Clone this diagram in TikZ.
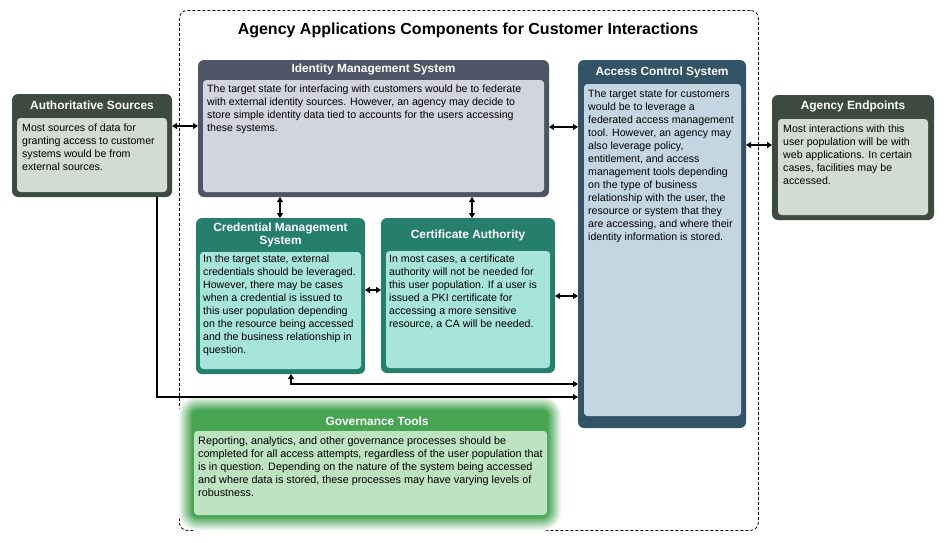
\documentclass[tikz,border=0pt]{standalone}
\usepackage{fontspec}
\setmainfont{Liberation Sans}
\usetikzlibrary{arrows.meta,calc}
\definecolor{authO}{HTML}{3D4A40}
\definecolor{authI}{HTML}{D2DCD3}
\definecolor{imsO}{HTML}{4E5567}
\definecolor{imsI}{HTML}{D2D5DE}
\definecolor{tealO}{HTML}{257F6C}
\definecolor{tealI}{HTML}{A7E4DA}
\definecolor{acsO}{HTML}{335366}
\definecolor{acsI}{HTML}{C5D6E3}
\definecolor{govO}{HTML}{47A552}
\definecolor{govI}{HTML}{BEE3C1}
\begin{document}
\begin{tikzpicture}[x=1pt,y=-1pt,
  outerbox/.style={rounded corners=6pt, inner sep=0pt, outer sep=0pt, anchor=north west, draw=none},
  innerbox/.style={rounded corners=3.5pt, inner sep=0pt, outer sep=0pt, anchor=north west, draw=none},
  headtext/.style={text=white, font=\fontsize{11.9}{13.8}\selectfont\bfseries, align=center, inner sep=0pt},
  bodytext/.style={text=black, font=\fontsize{10.6}{13}\selectfont, align=left, anchor=north west, inner sep=0pt},
  govtext/.style={text=black, font=\fontsize{10.8}{13}\selectfont, align=left, anchor=north west, inner sep=0pt},
  conn/.style={line width=1.4pt, black},
  dbl/.style={conn, {Triangle[length=5pt,width=6pt]}-{Triangle[length=5pt,width=6pt]}},
  sgl/.style={conn, -{Triangle[length=5pt,width=6pt]}}]
\useasboundingbox (0,0) rectangle (945,542);
\fill[white] (0,0) rectangle (945,542);

% container
\node[draw=black, dash pattern=on 3pt off 2pt, line width=0.8pt, rounded corners=8pt,
  minimum width=579pt, minimum height=520pt, anchor=north west, inner sep=0pt] (cont) at (179,10) {};
\node[font=\fontsize{16}{18}\selectfont\bfseries, inner sep=0pt] (title) at (468,30) {Agency Applications Components for Customer Interactions};

% Authoritative Sources
\node[outerbox, fill=authO, minimum width=160pt, minimum height=103pt] (auth) at (12,94) {};
\node[innerbox, fill=authI, minimum width=150pt, minimum height=74pt] (authin) at (17,118) {};
\node[headtext] (authh) at (92,105.5) {Authoritative Sources};
\node[bodytext] (autht) at (22,124) {Most sources of data for\\granting access to customer\\systems would be from\\external sources.};

% Identity Management System
\node[outerbox, fill=imsO, minimum width=351pt, minimum height=137pt] (ims) at (198,60) {};
\node[innerbox, fill=imsI, minimum width=341pt, minimum height=112pt] (imsin) at (203,80) {};
\node[headtext] (imsh) at (373.5,69.5) {Identity Management System};
\node[bodytext] (imst) at (207,85) {The target state for interfacing with customers would be to federate\\with external identity sources. However, an agency may decide to\\store simple identity data tied to accounts for the users accessing\\these systems.};

% Credential Management System
\node[outerbox, fill=tealO, minimum width=169pt, minimum height=156pt] (cms) at (196,218) {};
\node[innerbox, fill=tealI, minimum width=161pt, minimum height=117pt] (cmsin) at (200,252) {};
\node[headtext] (cmsh) at (280.5,235) {Credential Management\\System};
\node[bodytext] (cmst) at (203,255) {In the target state, external\\credentials should be leveraged.\\However, there may be cases\\when a credential is issued to\\this user population depending\\on the resource being accessed\\and the business relationship in\\question.};

% Certificate Authority
\node[outerbox, fill=tealO, minimum width=174pt, minimum height=155pt] (ca) at (381,218) {};
\node[innerbox, fill=tealI, minimum width=164pt, minimum height=117pt] (cain) at (386,251) {};
\node[headtext] (cah) at (468,235) {Certificate Authority};
\node[bodytext] (cat) at (389,255) {In most cases, a certificate\\authority will not be needed for\\this user population. If a user is\\issued a PKI certificate for\\accessing a more sensitive\\resource, a CA will be needed.};

% Access Control System
\node[outerbox, fill=acsO, minimum width=168pt, minimum height=368pt] (acs) at (578,60) {};
\node[innerbox, fill=acsI, minimum width=157pt, minimum height=332pt] (acsin) at (584,84) {};
\node[headtext] (acsh) at (662,72) {Access Control System};
\node[bodytext] (acst) at (588,90) {The target state for customers\\would be to leverage a\\federated access management\\tool. However, an agency may\\also leverage policy,\\entitlement, and access\\management tools depending\\on the type of business\\relationship with the user, the\\resource or system that they\\are accessing, and where their\\identity information is stored.};

% Agency Endpoints
\node[outerbox, fill=authO, minimum width=162pt, minimum height=125pt] (endp) at (772,95) {};
\node[innerbox, fill=authI, minimum width=150pt, minimum height=96pt] (endpin) at (778,119) {};
\node[headtext] (endph) at (853,106) {Agency Endpoints};
\node[bodytext] (endpt) at (783,125) {Most interactions with this\\user population will be with\\web applications. In certain\\cases, facilities may be\\accessed.};

% Governance Tools (glow)
\foreach \i in {14,13,...,1}{
  \pgfmathsetmacro{\mix}{100-\i*7}
  \fill[govO!\mix!white, rounded corners={6pt+\i pt}] (192-\i,410-\i) rectangle (548+\i,517+\i);
}
\node[outerbox, fill=govO, minimum width=356pt, minimum height=107pt] (gov) at (192,410) {};
\node[innerbox, fill=govI, minimum width=353pt, minimum height=84pt] (govin) at (194,431) {};
\node[headtext] (govh) at (377,421) {Governance Tools};
\node[govtext] (govt) at (198,436) {Reporting, analytics, and other governance processes should be\\completed for all access attempts, regardless of the user population that\\is in question. Depending on the nature of the system being accessed\\and where data is stored, these processes may have varying levels of\\robustness.};

% connectors
\draw[dbl] (auth.east |- 0,126) -- (ims.west |- 0,126);
\draw[dbl] (ims.east |- 0,127) -- (acs.west |- 0,127);
\draw[dbl] (acs.east |- 0,145) -- (endp.west |- 0,145);
\draw[dbl] (ims.south -| 280,0) -- (cms.north -| 280,0);
\draw[dbl] (ims.south -| 472,0) -- (ca.north -| 472,0);
\draw[dbl] (cms.east |- 0,290) -- (ca.west |- 0,290);
\draw[dbl] (ca.east |- 0,296) -- (acs.west |- 0,296);
\draw[dbl] (cms.south -| 291,0) |- (acs.west |- 0,384);
\draw[sgl] (auth.south -| 157,0) |- (acs.west |- 0,397);
\end{tikzpicture}
\end{document}
